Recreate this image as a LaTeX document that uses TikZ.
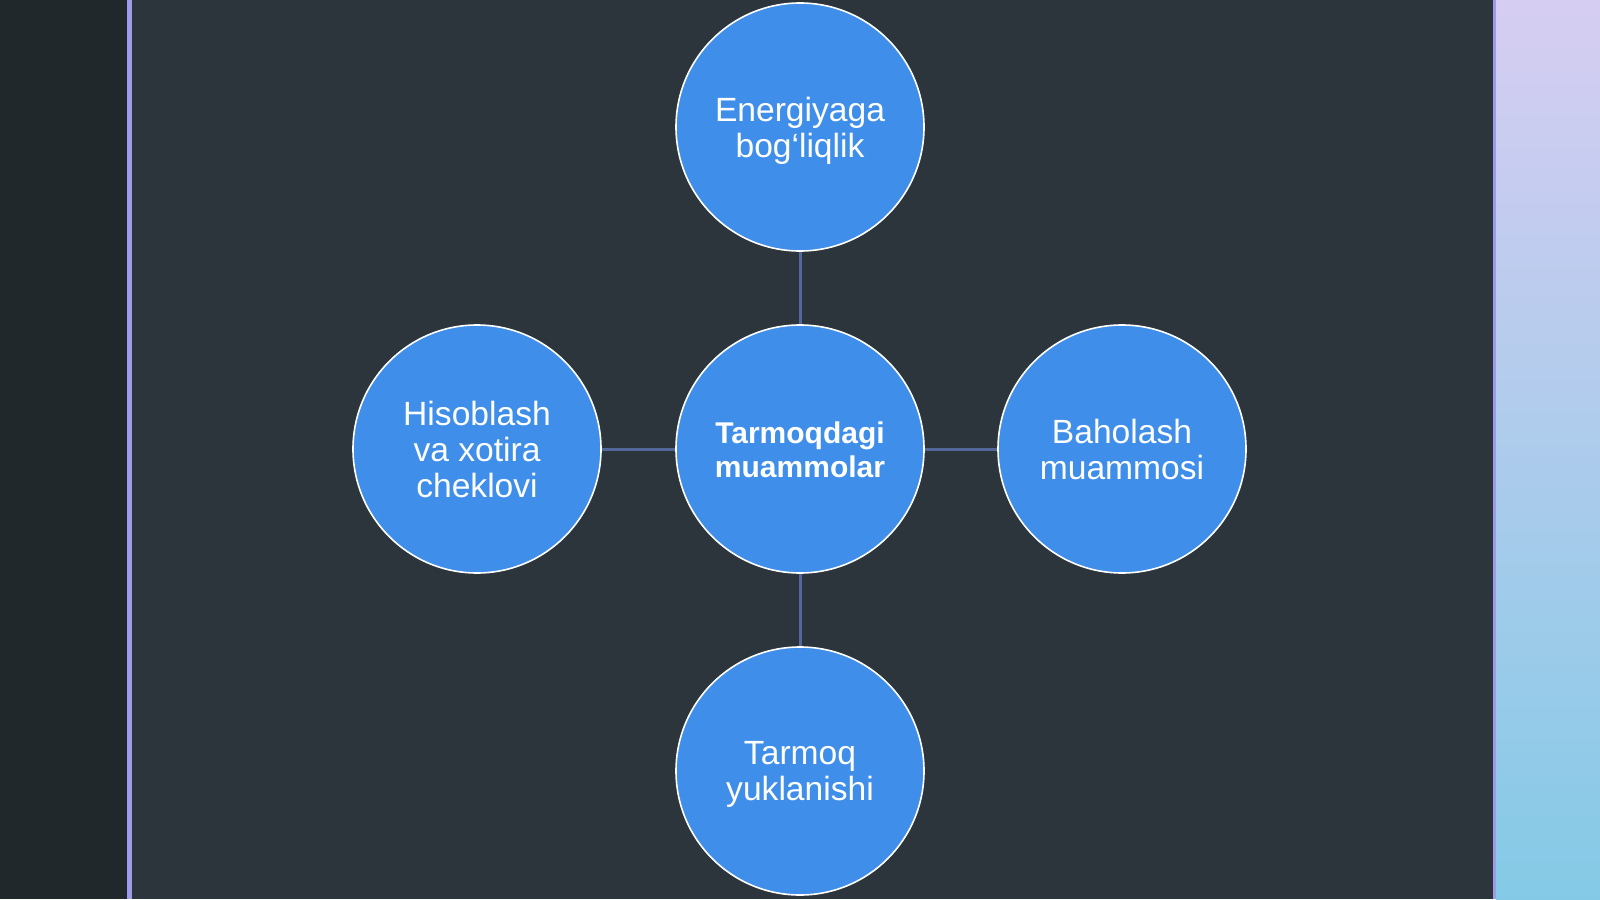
\documentclass[tikz,border=0pt]{standalone}
\usepackage{fontspec}
\setmainfont{Liberation Sans}
\definecolor{leftbg}{HTML}{20282B}
\definecolor{mainbg}{HTML}{2C353B}
\definecolor{edgeline}{HTML}{9E9CE8}
\definecolor{circfill}{HTML}{3E8EEA}
\definecolor{conn}{HTML}{52689A}
\definecolor{rtop}{HTML}{D6CDF2}
\definecolor{rmid}{HTML}{B7CFF2}
\definecolor{rbot}{HTML}{84CAE6}
\newcommand{\bubtext}[2]{\raisebox{#1}[\height][\depth]{\parbox{200pt}{\centering #2}}}
\tikzset{
  bubble/.style={circle, fill=circfill, draw=white, line width=1.6pt, minimum size=248pt, inner sep=0pt, text=white, align=center, font=\fontsize{33.6}{36}\selectfont},
  link/.style={draw=conn, line width=3pt}
}
\begin{document}
\begin{tikzpicture}[x=1pt,y=-1pt]
\useasboundingbox (0,0) rectangle (1600,899);
\fill[leftbg] (0,0) rectangle (127,899);
\fill[mainbg] (132,0) rectangle (1493,899);
\fill[edgeline] (127,0) rectangle (132,899);
\fill[edgeline] (1493,0) rectangle (1496,899);
\shade[top color=rtop, middle color=rmid, bottom color=rbot] (1496,0) rectangle (1600,899);
\node[bubble] (c) at (800,449) {\bubtext{-1pt}{\bfseries\fontsize{30}{34}\selectfont Tarmoqdagi\\muammolar}};
\node[bubble] (t) at (800,127) {\bubtext{-3.5pt}{Energiyaga\\bog‘liqlik}};
\node[bubble] (l) at (477,449) {\bubtext{0pt}{Hisoblash\\va xotira\\cheklovi}};
\node[bubble] (r) at (1122,449) {\bubtext{0pt}{Baholash\\muammosi}};
\node[bubble] (b) at (800,771) {\bubtext{-3.5pt}{Tarmoq\\yuklanishi}};
\draw[link] (c) -- (t);
\draw[link] (c) -- (l);
\draw[link] (c) -- (r);
\draw[link] (c) -- (b);
\end{tikzpicture}
\end{document}
